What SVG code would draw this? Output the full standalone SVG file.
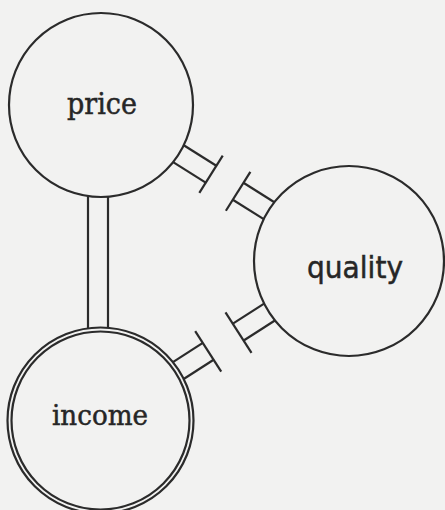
<svg xmlns="http://www.w3.org/2000/svg" width="445" height="510" viewBox="0 0 445 510">
<style>
.c{fill:none;stroke:#2b2b2b;stroke-width:2.2}
.l{stroke:#2b2b2b;stroke-width:2.2;fill:none;stroke-linecap:butt}
.serif{font-family:"DejaVu Serif","Liberation Serif",serif;fill:#262626;stroke:#262626;stroke-width:0.5;text-anchor:middle}
.sans{font-family:"DejaVu Sans","Liberation Sans",sans-serif;fill:#262626;stroke:#262626;stroke-width:0.5;text-anchor:middle}
</style>
<rect width="445" height="510" fill="#f2f2f1"/>
<g id="connectors" class="l">
  <!-- price - income double line -->
  <line x1="88" y1="196.1" x2="88" y2="328.3"/>
  <line x1="108" y1="196.7" x2="108" y2="327.8"/>
  <!-- price - quality : price side -->
  <line x1="173.13" y1="162.17" x2="205.71" y2="182.67"/>
  <line x1="183.77" y1="145.25" x2="216.35" y2="165.75"/>
  <line x1="199.32" y1="192.83" x2="222.74" y2="155.59"/>
  <!-- price - quality : quality side -->
  <line x1="263.72" y1="219.16" x2="232.80" y2="199.72"/>
  <line x1="274.36" y1="202.24" x2="243.44" y2="182.80"/>
  <line x1="225.87" y1="210.73" x2="250.37" y2="171.79"/>
  <!-- income - quality : income side -->
  <line x1="183.71" y1="378.97" x2="213.62" y2="359.77"/>
  <line x1="172.91" y1="362.13" x2="202.82" y2="342.93"/>
  <line x1="221.2" y1="371.6" x2="195.2" y2="331.1"/>
  <!-- income - quality : quality side -->
  <line x1="274.89" y1="320.45" x2="243.31" y2="340.73"/>
  <line x1="264.09" y1="303.61" x2="232.51" y2="323.89"/>
  <line x1="225.5" y1="312.4" x2="251.5" y2="352.9"/>
</g>
<g id="price">
  <circle class="c" cx="101" cy="105" r="92"/>
  <text class="serif" x="102" y="114" font-size="29" textLength="70" lengthAdjust="spacingAndGlyphs">price</text>
</g>
<g id="quality">
  <circle class="c" cx="349" cy="261" r="95"/>
  <text class="sans" x="355" y="278" font-size="30" textLength="96" lengthAdjust="spacingAndGlyphs">quality</text>
</g>
<g id="income">
  <circle class="c" cx="100.5" cy="420.5" r="93"/>
  <circle class="c" cx="100.5" cy="420.5" r="89"/>
  <text class="serif" x="100" y="425" font-size="28" textLength="96" lengthAdjust="spacingAndGlyphs">income</text>
</g>
</svg>
